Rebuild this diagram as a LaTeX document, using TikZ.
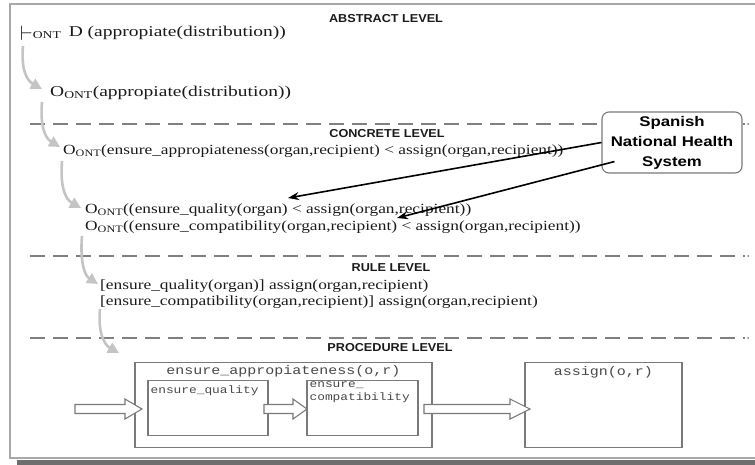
\documentclass[tikz,border=0pt]{standalone}
\usepackage{fontspec}
\setmainfont{Liberation Serif}
\newfontfamily\serifw[FakeStretch=1.24]{Liberation Serif}
\newfontfamily\serifwide[FakeStretch=1.3]{Liberation Serif}
\newfontfamily\monow[FakeStretch=1.2]{Liberation Mono}
\newfontfamily\sansw[FakeStretch=1.1]{Liberation Sans}
\newfontfamily\sansb[FakeStretch=1.2]{Liberation Sans}
\usetikzlibrary{arrows.meta}
\definecolor{framegray}{HTML}{A8A8A8}
\definecolor{shadowgray}{HTML}{6E6E6E}
\definecolor{dashgray}{HTML}{808080}
\definecolor{flowgray}{HTML}{C4C4C4}
\definecolor{boxgray}{HTML}{7A7A7A}
\definecolor{textgray}{HTML}{1A1A1A}
\tikzset{
  lvl/.style={font=\sansw\bfseries\fontsize{11.5}{12}\selectfont, inner sep=0pt, text=textgray},
  formula/.style={font=\serifw\fontsize{14}{16}\selectfont, inner sep=0pt, anchor=west, text=textgray},
  formulabig/.style={formula, font=\serifwide\fontsize{15}{16}\selectfont},
  codebig/.style={font=\monow\fontsize{12.5}{13}\selectfont, inner sep=0pt, text=textgray!80},
  codesm/.style={font=\monow\fontsize{10.7}{13}\selectfont, inner sep=0pt, align=left, text=textgray!80},
  pbox/.style={draw=boxgray, line width=1.2pt},
  dline/.style={draw=dashgray, line width=2pt, dash pattern=on 15pt off 8pt},
  flow/.style={draw=flowgray, line width=2.6pt, -{Triangle[length=11pt,width=11pt]}},
  harrow/.style={draw=black, line width=1.6pt, -{Stealth[length=11pt,width=8pt]}},
  barrow/.style={draw=boxgray, fill=white, line width=1.1pt, line join=miter},
  sns/.style={draw=boxgray, fill=white, rounded corners=7pt, line width=1.1pt,
    minimum width=140pt, minimum height=61pt, align=center, inner sep=0pt,
    font=\sansb\bfseries\fontsize{14}{20}\selectfont}
}
\newcommand\blkarrow[4]{\draw[barrow] (#1,#3-4.5) -- (#2-#4,#3-4.5) -- (#2-#4,#3-10) -- (#2,#3) -- (#2-#4,#3+10) -- (#2-#4,#3+4.5) -- (#1,#3+4.5) -- cycle;}
\begin{document}
\begin{tikzpicture}[x=1pt,y=-1pt]
\useasboundingbox (0,0) rectangle (755,464);
% frame and shadow
\fill[shadowgray] (17,459.5) rectangle (760,465);
\draw[framegray, line width=1.6pt] (760,4) -- (10,4) -- (10,458) -- (760,458);
% dashed separators
\draw[dline] (30,124) -- (745,124);
\draw[dline] (30,256) -- (745,256);
\draw[dline] (30,338) -- (745,338);
\fill[dashgray] (748,124) circle (1pt);
\fill[dashgray] (748,256) circle (1pt);
\fill[dashgray] (748,338) circle (1pt);
% level labels
\node[lvl] (labs) at (386,19) {ABSTRACT LEVEL};
\node[lvl] (lcon) at (387,134) {CONCRETE LEVEL};
\node[lvl] (lrul) at (391,268) {RULE LEVEL};
\node[lvl] (lpro) at (390,348) {PROCEDURE LEVEL};
% formulas
\node[formulabig] (t0) at (20,33) {\raisebox{-0.5ex}{\fontsize{22}{22}\selectfont$\vdash$}\textsubscript{ONT}\, D (appropiate(distribution))};
\node[formulabig] (t1) at (50,93) {O\textsubscript{ONT}(appropiate(distribution))};
\node[formula] (t2) at (63,151) {O\textsubscript{ONT}(ensure\_appropiateness(organ,recipient) < assign(organ,recipient))};
\node[formula] (t3) at (85,210) {O\textsubscript{ONT}((ensure\_quality(organ) < assign(organ,recipient))};
\node[formula] (t4) at (85,227) {O\textsubscript{ONT}((ensure\_compatibility(organ,recipient) < assign(organ,recipient))};
\node[formula] (t5) at (100,286) {[ensure\_quality(organ)] assign(organ,recipient)};
\node[formula] (t6) at (100,302) {[ensure\_compatibility(organ,recipient)] assign(organ,recipient)};
% Spanish National Health System
\node[sns] (sns) at (672,142.5) {Spanish\\National Health\\System};
\coordinate (q1) at (288,198);
\coordinate (q2) at (397,218);
\draw[harrow] (sns.west) -- (q1);
\draw[harrow] ([xshift=13pt,yshift=12pt]sns.south west) -- (q2);
% gray flow arrows
\coordinate (f1s) at (23,46);  \coordinate (f1e) at (42,89);
\coordinate (f2s) at (42,102); \coordinate (f2e) at (60,147);
\coordinate (f3s) at (62,161); \coordinate (f3e) at (81,208);
\coordinate (f4s) at (82,236); \coordinate (f4e) at (98,284);
\coordinate (f5s) at (100,309); \coordinate (f5e) at (119,353);
\draw[flow] (f1s) .. controls (21,68) and (26,80) .. (f1e);
\draw[flow] (f2s) .. controls (40,126) and (45,138) .. (f2e);
\draw[flow] (f3s) .. controls (60,186) and (65,199) .. (f3e);
\draw[flow] (f4s) .. controls (80,260) and (84,275) .. (f4e);
\draw[flow] (f5s) .. controls (98,330) and (103,344) .. (f5e);
% procedure level
\node[pbox, minimum width=297pt, minimum height=85pt, inner sep=0pt] (pa) at (283.5,405) {};
\node[codebig, anchor=north] (pal) at ([yshift=-3pt]pa.north) {ensure\_appropiateness(o,r)};
\node[pbox, minimum width=120pt, minimum height=55pt, inner sep=0pt] (pq) at (208,408) {};
\node[codesm, anchor=north west] (pql) at ([xshift=3pt,yshift=-6pt]pq.north west) {ensure\_quality};
\node[pbox, minimum width=111pt, minimum height=55pt, inner sep=0pt] (pc) at (362.5,408) {};
\node[codesm, anchor=north west] (pcl) at ([xshift=3pt,yshift=-2pt]pc.north west) {ensure\_\\compatibility};
\node[pbox, minimum width=157pt, minimum height=85pt, inner sep=0pt] (pg) at (603.5,405) {};
\node[codebig, anchor=north] (pgl) at ([yshift=-4pt]pg.north) {assign(o,r)};
\blkarrow{75}{142}{409}{17}
\blkarrow{264}{307}{409}{14}
\blkarrow{424}{530}{409}{20}
\end{tikzpicture}
\end{document}
